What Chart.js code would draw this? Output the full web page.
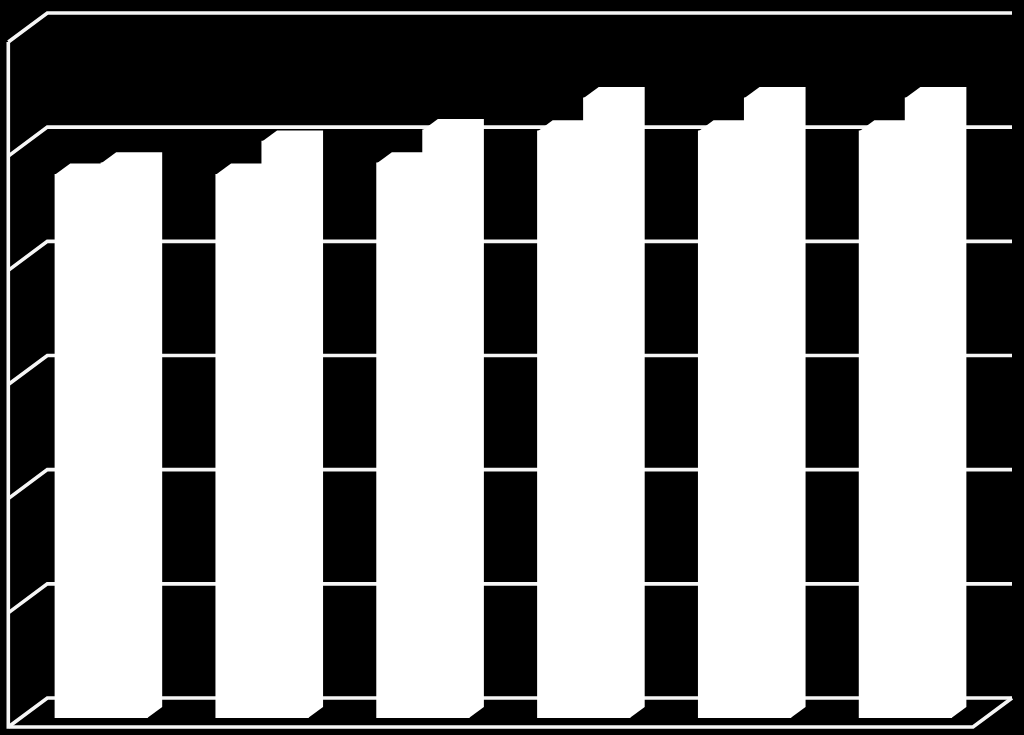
<!DOCTYPE html>
<html>
<head>
<meta charset="utf-8">
<style>html,body{margin:0;padding:0;background:#000;overflow:hidden}canvas{display:block}</style>
<script src="https://cdn.jsdelivr.net/npm/chart.js@4"></script>
</head>
<body>
<canvas id="c" width="1024" height="735"></canvas>
<script>
const categories = ['1', '2', '3', '4', '5', '6'];
const seriesA = [4.76, 4.76, 4.86, 5.14, 5.14, 5.14];
const seriesB = [4.86, 5.05, 5.15, 5.43, 5.43, 5.43];
const gridValues = [0, 1, 2, 3, 4, 5, 6];

const WALL = {front: {dx: -12.5, dy: 9}, back: {dx: 26.5, dy: -20}, right: 1012};
const BAR_DEPTH = {dx: 15, dy: -11};

const scene3d = {
  id: 'scene3d',
  beforeDatasetsDraw(chart) {
    const {ctx, scales: {y}, chartArea: a} = chart;
    const fx = a.left + WALL.front.dx, bx = a.left + WALL.back.dx;
    const p = v => y.getPixelForValue(v);
    ctx.save();
    ctx.strokeStyle = '#f6f6f6';
    ctx.lineWidth = 3.6;
    ctx.lineJoin = 'miter';
    ctx.lineCap = 'butt';
    gridValues.forEach(v => {
      ctx.beginPath();
      ctx.moveTo(fx, p(v) + WALL.front.dy);
      ctx.lineTo(bx, p(v) + WALL.back.dy);
      ctx.lineTo(WALL.right, p(v) + WALL.back.dy);
      ctx.stroke();
    });
    const vMax = gridValues[gridValues.length - 1];
    ctx.beginPath();
    ctx.moveTo(fx, p(vMax) + WALL.front.dy);
    ctx.lineTo(fx, p(0) + WALL.front.dy);
    ctx.lineTo(WALL.right - (WALL.back.dx - WALL.front.dx), p(0) + WALL.front.dy);
    ctx.lineTo(WALL.right, p(0) + WALL.back.dy);
    ctx.stroke();
    ctx.restore();
  },
  afterDatasetsDraw(chart) {
    const {ctx} = chart;
    ctx.save();
    ctx.fillStyle = '#ffffff';
    chart.data.datasets.forEach((_, i) => {
      chart.getDatasetMeta(i).data.forEach(el => {
        const l = el.x - el.width / 2, r = el.x + el.width / 2;
        ctx.beginPath();
        ctx.moveTo(l, el.y);
        ctx.lineTo(l + BAR_DEPTH.dx, el.y + BAR_DEPTH.dy);
        ctx.lineTo(r + BAR_DEPTH.dx, el.y + BAR_DEPTH.dy);
        ctx.lineTo(r + BAR_DEPTH.dx, el.base + BAR_DEPTH.dy);
        ctx.lineTo(r, el.base);
        ctx.closePath();
        ctx.fill();
      });
    });
    ctx.restore();
  }
};

new Chart(document.getElementById('c'), {
  type: 'bar',
  data: {
    labels: categories,
    datasets: [
      {label: 'A', data: seriesA, backgroundColor: '#ffffff', borderWidth: 0, inflateAmount: 0.6},
      {label: 'B', data: seriesB, backgroundColor: '#ffffff', borderWidth: 0, inflateAmount: 0.6}
    ]
  },
  options: {
    responsive: false,
    devicePixelRatio: 1,
    animation: false,
    layout: {padding: {left: 20.8, right: 38.2, top: 33, bottom: 17}},
    datasets: {bar: {categoryPercentage: 0.572, barPercentage: 1}},
    plugins: {legend: {display: false}, tooltip: {enabled: false}, title: {display: false}},
    scales: {
      x: {display: false, grid: {display: false}},
      y: {display: false, min: 0, max: 6, grid: {display: false}}
    }
  },
  plugins: [scene3d]
});
</script>
</body>
</html>
